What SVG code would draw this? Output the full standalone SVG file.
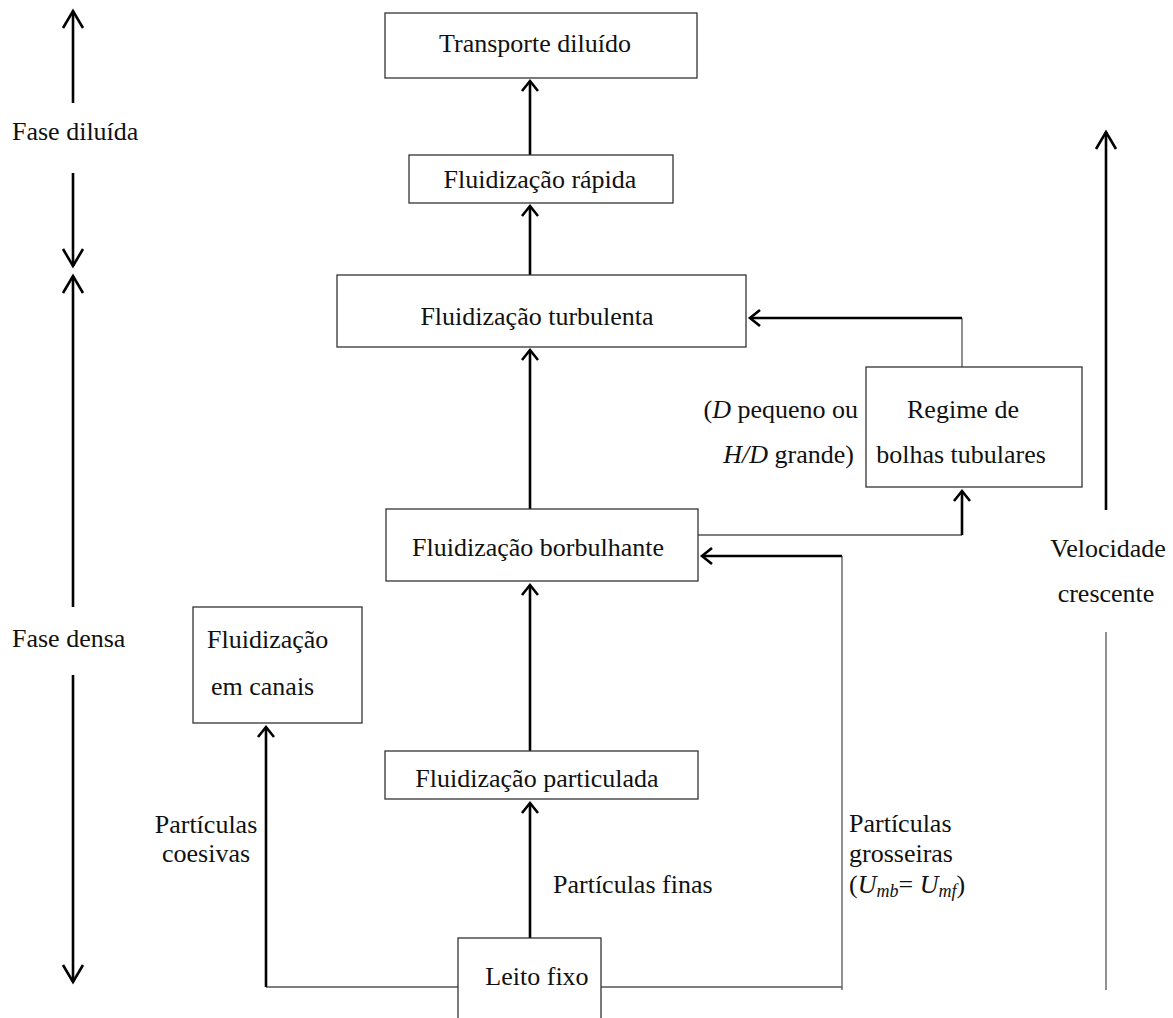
<svg xmlns="http://www.w3.org/2000/svg" width="1173" height="1018" viewBox="0 0 1173 1018">
  <style>
    text { font-size: 26px; fill: #111; }
    .c { text-anchor: middle; }
    .e { text-anchor: end; }
    .i { font-style: italic; }
    .box { fill: #fff; stroke: #333; stroke-width: 1.3; }
    .thick { fill: none; stroke: #000; stroke-width: 2.6; }
    .thin { fill: none; stroke: #555; stroke-width: 1.3; }
  </style>
  <defs>
    <marker id="headS" markerUnits="userSpaceOnUse" orient="auto" overflow="visible" markerWidth="20" markerHeight="20">
      <path d="M-10,-8 L0,0 L-10,8" fill="none" stroke="#000" stroke-width="2.6"/>
    </marker>
    <marker id="headL" markerUnits="userSpaceOnUse" orient="auto" overflow="visible" markerWidth="24" markerHeight="24">
      <path d="M-17,-10 L0,0 L-17,10" fill="none" stroke="#000" stroke-width="2.6"/>
    </marker>
  </defs>

  <!-- connectors -->
  <g id="connectors">
    <!-- phase axis on the left -->
    <line class="thick" x1="73" y1="103" x2="73" y2="11" marker-end="url(#headL)"/>
    <line class="thick" x1="73" y1="173" x2="73" y2="266" marker-end="url(#headL)"/>
    <line class="thick" x1="73" y1="607" x2="73" y2="276" marker-end="url(#headL)"/>
    <line class="thick" x1="73" y1="675" x2="73" y2="982" marker-end="url(#headL)"/>

    <!-- velocity axis on the right -->
    <line class="thick" x1="1106" y1="510" x2="1106" y2="132" marker-end="url(#headL)"/>
    <line class="thin" x1="1106" y1="632" x2="1106" y2="990"/>

    <!-- main column -->
    <line class="thick" x1="530" y1="155" x2="530" y2="81" marker-end="url(#headS)"/>
    <line class="thick" x1="530" y1="275" x2="530" y2="206" marker-end="url(#headS)"/>
    <line class="thick" x1="530" y1="509" x2="530" y2="350" marker-end="url(#headS)"/>
    <line class="thick" x1="530" y1="751" x2="530" y2="585" marker-end="url(#headS)"/>
    <line class="thick" x1="530" y1="942" x2="530" y2="803" marker-end="url(#headS)"/>

    <!-- fixed bed to channelling -->
    <line class="thin" x1="458" y1="987" x2="266" y2="987"/>
    <line class="thick" x1="266" y1="987" x2="266" y2="727" marker-end="url(#headS)"/>

    <!-- fixed bed to bubbling (coarse particles) -->
    <line class="thin" x1="601" y1="987" x2="842" y2="987"/>
    <line class="thin" x1="842" y1="990" x2="842" y2="556"/>
    <line class="thick" x1="842" y1="556" x2="702" y2="556" marker-end="url(#headS)"/>

    <!-- bubbling to slugging -->
    <line class="thin" x1="698" y1="535" x2="962" y2="535"/>
    <line class="thick" x1="962" y1="535" x2="962" y2="491" marker-end="url(#headS)"/>

    <!-- slugging to turbulent -->
    <line class="thin" x1="962" y1="367" x2="962" y2="318"/>
    <line class="thick" x1="962" y1="318" x2="750" y2="318" marker-end="url(#headS)"/>
  </g>

  <g font-family="'Liberation Serif', Tinos, 'DejaVu Serif', serif">
  <!-- nodes -->
  <g id="transporte">
    <rect class="box" x="385" y="13" width="312" height="65"/>
    <text class="c" x="535" y="52">Transporte diluído</text>
  </g>
  <g id="rapida">
    <rect class="box" x="409" y="155" width="264" height="48"/>
    <text class="c" x="540" y="188">Fluidização rápida</text>
  </g>
  <g id="turbulenta">
    <rect class="box" x="337" y="275" width="409" height="72"/>
    <text class="c" x="537" y="325">Fluidização turbulenta</text>
  </g>
  <g id="tubulares">
    <rect class="box" x="866" y="367" width="216" height="120"/>
    <text class="c" x="963" y="418">Regime de</text>
    <text class="c" x="961" y="463">bolhas tubulares</text>
  </g>
  <g id="borbulhante">
    <rect class="box" x="386" y="509" width="312" height="72"/>
    <text class="c" x="538" y="556">Fluidização borbulhante</text>
  </g>
  <g id="canais">
    <rect class="box" x="193" y="607" width="169" height="116"/>
    <text x="207" y="648">Fluidização</text>
    <text x="211" y="695">em canais</text>
  </g>
  <g id="particulada">
    <rect class="box" x="385" y="751" width="313" height="48"/>
    <text class="c" x="537" y="787">Fluidização particulada</text>
  </g>
  <g id="leito">
    <rect class="box" x="458" y="938" width="143" height="90"/>
    <text class="c" x="537" y="985">Leito fixo</text>
  </g>

  <!-- labels -->
  <g id="labels">
    <text x="12" y="140">Fase diluída</text>
    <text x="12" y="647">Fase densa</text>
    <text class="c" x="1108" y="557">Velocidade</text>
    <text class="c" x="1106" y="602">crescente</text>
    <text class="e" x="858" y="418">(<tspan class="i">D</tspan> pequeno ou</text>
    <text class="e" x="854" y="463"><tspan class="i">H/D</tspan> grande)</text>
    <text class="c" x="206" y="833">Partículas</text>
    <text class="c" x="206" y="862">coesivas</text>
    <text x="553" y="893">Partículas finas</text>
    <text x="849" y="832">Partículas</text>
    <text x="849" y="862">grosseiras</text>
    <text x="849" y="893">(<tspan class="i">U</tspan><tspan class="i" font-size="18" dy="4">mb</tspan><tspan dy="-4">= </tspan><tspan class="i">U</tspan><tspan class="i" font-size="18" dy="4">mf</tspan><tspan dy="-4">)</tspan></text>
  </g>
  </g>
</svg>
